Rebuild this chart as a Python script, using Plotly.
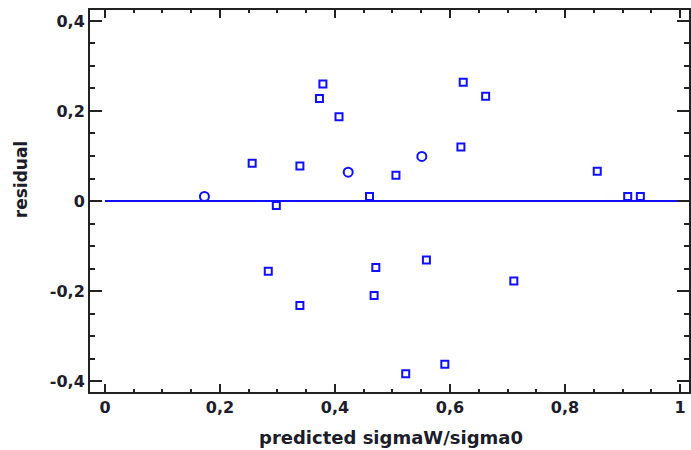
import plotly.graph_objects as go

# Data
sq_x = [0.256, 0.298, 0.339, 0.373, 0.379, 0.407, 0.460, 0.506, 0.619, 0.623,
        0.662, 0.856, 0.909, 0.931, 0.284, 0.339, 0.471, 0.468, 0.559, 0.523,
        0.591, 0.711]
sq_y = [0.084, -0.010, 0.078, 0.228, 0.260, 0.187, 0.010, 0.057, 0.120, 0.264,
        0.233, 0.066, 0.010, 0.010, -0.156, -0.232, -0.148, -0.210, -0.131, -0.384,
        -0.363, -0.178]
ci_x = [0.173, 0.423, 0.551]
ci_y = [0.010, 0.064, 0.099]
zero_x = [0.0, 1.0]
zero_y = [0.0, 0.0]

x_tickvals = [0, 0.2, 0.4, 0.6, 0.8, 1.0]
x_ticktext = ["0", "0,2", "0,4", "0,6", "0,8", "1"]
y_tickvals = [-0.4, -0.2, 0, 0.2, 0.4]
y_ticktext = ["-0,4", "-0,2", "0", "0,2", "0,4"]

BLUE = "#1010ff"
TXT = "#1c1c2a"
FONT = "DejaVu Sans"

fig = go.Figure()
fig.add_trace(go.Scatter(x=sq_x, y=sq_y, mode="markers",
                         marker=dict(symbol="square-open", size=7,
                                     color=BLUE, line=dict(width=2, color=BLUE)),
                         showlegend=False))
fig.add_trace(go.Scatter(x=ci_x, y=ci_y, mode="markers",
                         marker=dict(symbol="circle-open", size=9,
                                     color=BLUE, line=dict(width=2, color=BLUE)),
                         showlegend=False))
fig.add_trace(go.Scatter(x=zero_x, y=zero_y, mode="lines",
                         line=dict(color=BLUE, width=2), showlegend=False))

axis_common = dict(showline=True, mirror="ticks", linecolor="#222", linewidth=2,
                   ticks="inside", tickcolor="#222", tickwidth=1.5,
                   showgrid=False, zeroline=False,
                   tickfont=dict(family=FONT, size=16, color=TXT, weight="bold"))

fig.update_xaxes(range=[-0.026, 1.0156], tickmode="array",
                 tickvals=x_tickvals, ticktext=x_ticktext, ticklen=8,
                 minor=dict(ticks="inside", ticklen=3, tickmode="linear",
                            tick0=0, dtick=0.05, tickcolor="#222", tickwidth=1.5),
                 **axis_common)
fig.update_yaxes(range=[-0.4244, 0.4244], tickmode="array",
                 tickvals=y_tickvals, ticktext=y_ticktext, ticklen=12,
                 minor=dict(ticks="inside", ticklen=5, tickmode="linear",
                            tick0=0, dtick=0.05, tickcolor="#222", tickwidth=1.5),
                 **axis_common)

fig.add_annotation(text="predicted sigmaW/sigma0", xref="paper", yref="paper",
                   x=(392 - 90) / 601, y=(392 - 437) / 382, showarrow=False,
                   xanchor="center", yanchor="middle",
                   font=dict(family=FONT, size=18, color=TXT, weight="bold"))
fig.add_annotation(text="residual", xref="paper", yref="paper",
                   x=(21 - 90) / 601, y=(392 - 180) / 382, showarrow=False,
                   textangle=-90, xanchor="center", yanchor="middle",
                   font=dict(family=FONT, size=17, color=TXT, weight="bold"))

fig.update_layout(width=691, height=450,
                  margin=dict(l=90, r=0, t=10, b=58),
                  plot_bgcolor="white", paper_bgcolor="white")

fig.write_html("out.html")
